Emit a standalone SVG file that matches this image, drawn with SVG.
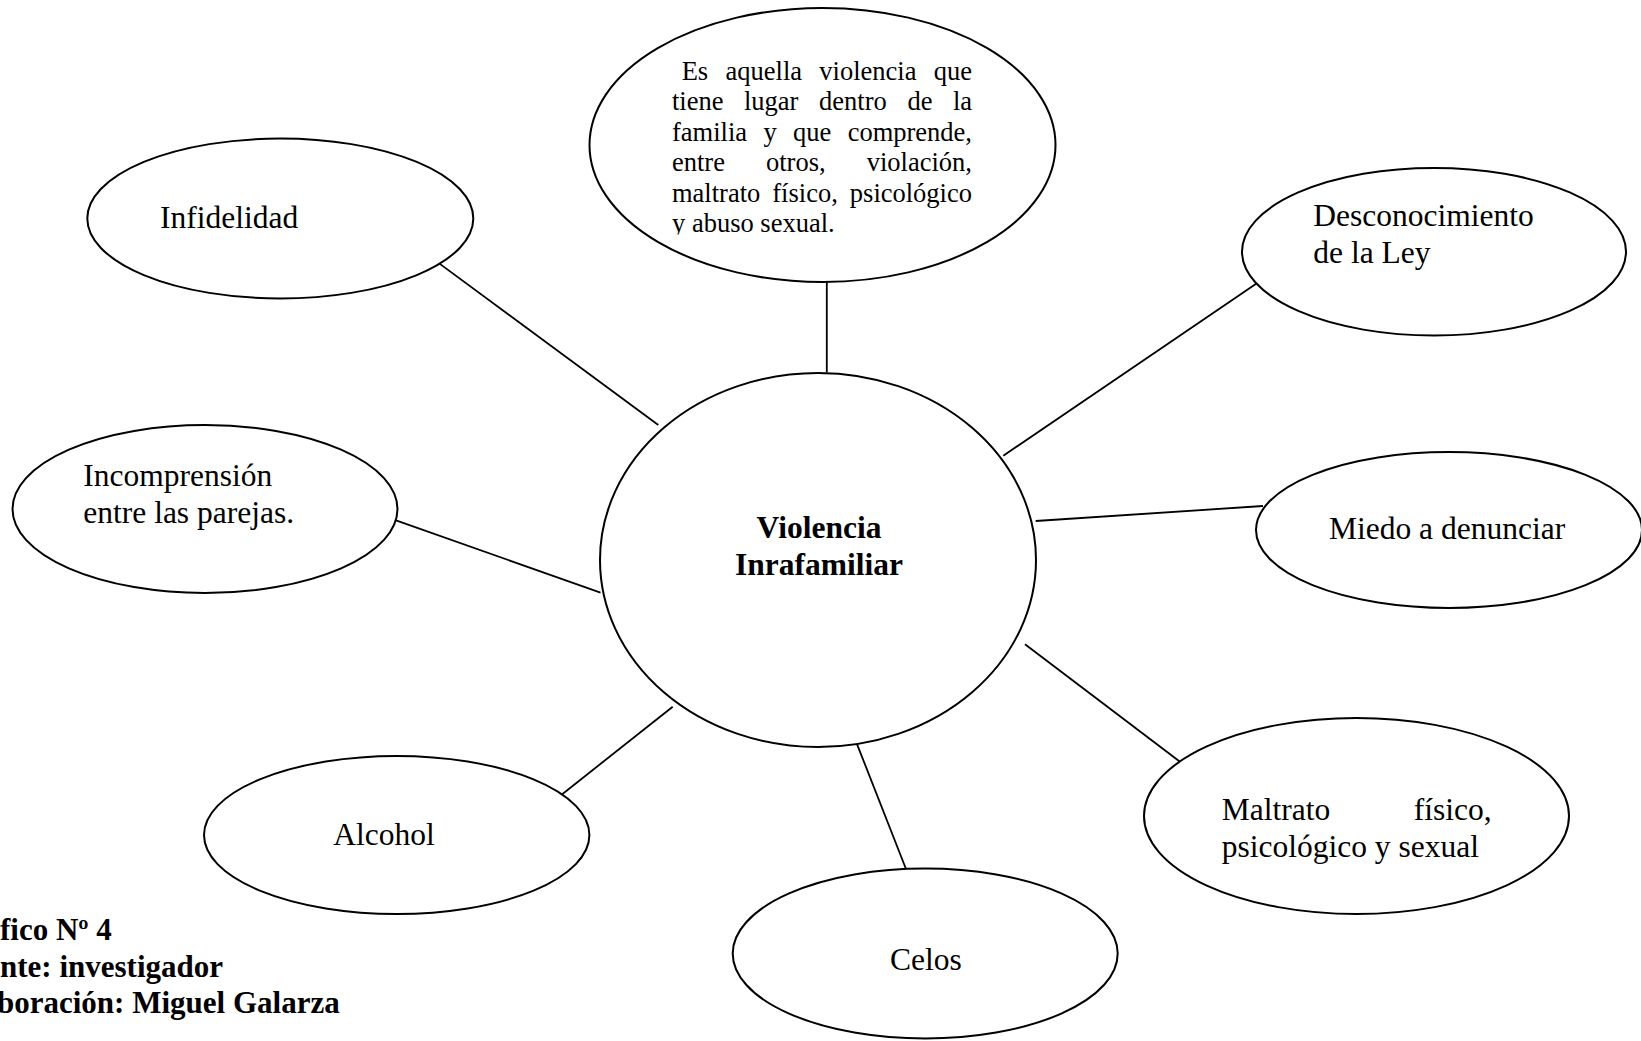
<svg xmlns="http://www.w3.org/2000/svg" width="1641" height="1041" viewBox="0 0 1641 1041">
<style>
.bg{fill:#ffffff}
.node ellipse{fill:#ffffff;stroke:#000000;stroke-width:2}
.t{font-family:"Liberation Serif","Times New Roman",serif;font-size:31.5px;fill:#000000}
.s{font-family:"Liberation Serif","Times New Roman",serif;font-size:26.5px;fill:#000000}
.b{font-family:"Liberation Serif","Times New Roman",serif;font-size:31.5px;font-weight:bold;fill:#000000}
.cap{font-family:"Liberation Serif","Times New Roman",serif;font-size:31px;font-weight:bold;fill:#000000}
#connectors line{stroke:#000000;stroke-width:1.8}
</style>
<defs>
<clipPath id="clipTop"><rect x="0" y="0" width="1641" height="234.5"/></clipPath>
</defs>
<rect class="bg" x="0" y="0" width="1641" height="1041"/>
<g id="connectors">
<line x1="439.5" y1="263.6" x2="658.3" y2="425"/>
<line x1="826.8" y1="282" x2="826.8" y2="372.5"/>
<line x1="1256.5" y1="283.5" x2="1003.3" y2="455.7"/>
<line x1="1035.7" y1="521" x2="1263" y2="506"/>
<line x1="1025" y1="644.3" x2="1180" y2="761.7"/>
<line x1="856.7" y1="743.3" x2="906" y2="869"/>
<line x1="672.7" y1="706.7" x2="562.2" y2="794.2"/>
<line x1="396" y1="520.3" x2="600.5" y2="592.7"/>
</g>
<g id="node-central" class="node">
<ellipse cx="818" cy="560" rx="218" ry="187"/>
<text class="b" x="819" y="538" text-anchor="middle">Violencia</text>
<text class="b" x="819" y="575" text-anchor="middle">Inrafamiliar</text>
</g>
<g id="node-definicion" class="node">
<ellipse cx="822.5" cy="145" rx="233" ry="137"/>
<g clip-path="url(#clipTop)">
<text class="s" y="80"><tspan x="681.7">Es</tspan><tspan x="725.5">aquella</tspan><tspan x="819.3">violencia</tspan></text>
<text class="s" y="80" x="972" text-anchor="end">que</text>
<text class="s" y="110.4"><tspan x="672">tiene</tspan><tspan x="744">lugar</tspan><tspan x="819.1">dentro</tspan><tspan x="907.4">de</tspan></text>
<text class="s" y="110.4" x="972" text-anchor="end">la</text>
<text class="s" y="140.8"><tspan x="672">familia</tspan><tspan x="763.4">y</tspan><tspan x="793">que</tspan></text>
<text class="s" y="140.8" x="972" text-anchor="end">comprende,</text>
<text class="s" y="171.2"><tspan x="672">entre</tspan><tspan x="766">otros,</tspan></text>
<text class="s" y="171.2" x="972" text-anchor="end">violación,</text>
<text class="s" y="201.6"><tspan x="672">maltrato</tspan><tspan x="772.3">físico,</tspan></text>
<text class="s" y="201.6" x="972" text-anchor="end">psicológico</text>
<text class="s" y="232" x="672">y abuso sexual.</text>
</g>
</g>
<g id="node-infidelidad" class="node">
<ellipse cx="280.3" cy="218.5" rx="193" ry="80"/>
<text class="t" x="160" y="228.3">Infidelidad</text>
</g>
<g id="node-desconocimiento" class="node">
<ellipse cx="1434" cy="251.7" rx="192" ry="83.8"/>
<text class="t" x="1313.3" y="226">Desconocimiento</text>
<text class="t" x="1313.3" y="263">de la Ley</text>
</g>
<g id="node-incomprension" class="node">
<ellipse cx="205" cy="509" rx="192.5" ry="84"/>
<text class="t" x="83.3" y="486">Incomprensión</text>
<text class="t" x="83.3" y="522.7">entre las parejas.</text>
</g>
<g id="node-miedo" class="node">
<ellipse cx="1449" cy="530" rx="193" ry="78"/>
<text class="t" x="1329" y="539">Miedo a denunciar</text>
</g>
<g id="node-maltrato" class="node">
<ellipse cx="1356.5" cy="816" rx="212.5" ry="98"/>
<text class="t" x="1221.7" y="820">Maltrato</text>
<text class="t" x="1491.7" y="820" text-anchor="end">físico,</text>
<text class="t" x="1221.7" y="856.7">psicológico y sexual</text>
</g>
<g id="node-alcohol" class="node">
<ellipse cx="396.7" cy="835" rx="192.7" ry="79"/>
<text class="t" x="333.3" y="845">Alcohol</text>
</g>
<g id="node-celos" class="node">
<ellipse cx="925.2" cy="953.5" rx="192.5" ry="85"/>
<text class="t" x="890" y="970">Celos</text>
</g>
<g id="caption">
<text class="cap" x="0" y="940">fico Nº 4</text>
<text class="cap" x="0" y="976.7">nte: investigador</text>
<text class="cap" x="-3" y="1013.3">boración: Miguel Galarza</text>
</g>
</svg>
